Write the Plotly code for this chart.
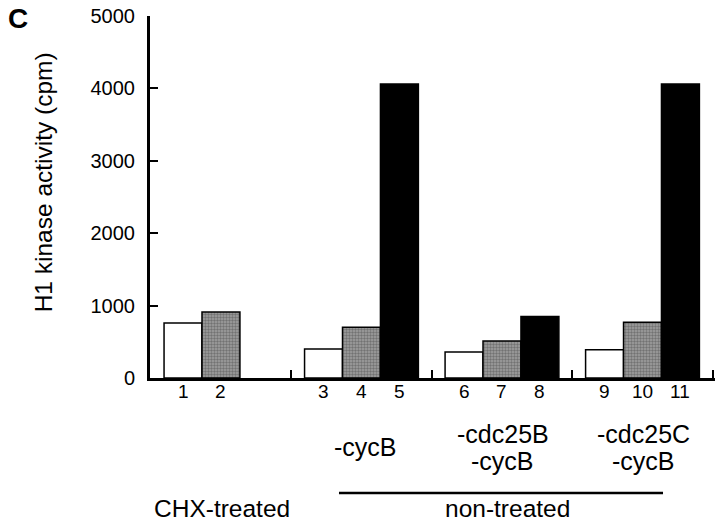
import plotly.graph_objects as go

groups = ["CHX", "cycB", "cdc25B", "cdc25C"]
white_vals = [760, 400, 360, 390]
gray_vals = [910, 700, 510, 770]
black_vals = [None, 4060, 850, 4060]
bar_numbers = [["1", "2", None], ["3", "4", "5"], ["6", "7", "8"], ["9", "10", "11"]]
group_labels = [[], ["-cycB"], ["-cdc25B", "-cycB"], ["-cdc25C", "-cycB"]]
y_ticks = [0, 1000, 2000, 3000, 4000, 5000]

FONT = "Liberation Sans, Arial, Helvetica, sans-serif"
xpos = list(range(len(groups)))
bw = 0.27

fig = go.Figure()
fig.add_trace(go.Bar(x=xpos, y=white_vals, marker=dict(color="white", line=dict(color="black", width=1.5))))
fig.add_trace(go.Bar(x=xpos, y=gray_vals, marker=dict(color="#8c8c8c", line=dict(color="black", width=1.5),
                                                   pattern=dict(shape=".", size=3, solidity=0.5, fgcolor="#444444", bgcolor="#a0a0a0"))))
fig.add_trace(go.Bar(x=xpos, y=black_vals, marker=dict(color="black", line=dict(color="black", width=1.5))))

ann = []
for g, nums in enumerate(bar_numbers):
    for i, n in enumerate(nums):
        if n is None:
            continue
        ann.append(dict(x=g + (i - 1) * bw, y=0, yref="y", xref="x", text=n, showarrow=False,
                        yshift=-13, yanchor="middle", font=dict(size=19, color="black", family=FONT)))

for g, lines in enumerate(group_labels):
    if not lines:
        continue
    if len(lines) == 1:
        ys = [-0.19]
    else:
        ys = [-0.155, -0.23]
    for ln, yy in zip(lines, ys):
        ann.append(dict(x=g + 0.03 if len(lines) == 1 else g + 0.005, y=yy, xref="x", yref="paper", text=ln,
                        showarrow=False, yanchor="middle", font=dict(size=25, color="black", family=FONT)))

ann.append(dict(x=0.007, y=-0.36, xref="x", yref="paper", text="CHX-treated", showarrow=False,
                yanchor="middle", font=dict(size=24.5, color="black", family=FONT)))
ann.append(dict(x=2.036, y=-0.36, xref="x", yref="paper", text="non-treated", showarrow=False,
                yanchor="middle", font=dict(size=24.5, color="black", family=FONT)))
ann.append(dict(x=-0.189, y=0.541, xref="paper", yref="paper", text="H1 kinase activity (cpm)", textangle=-90,
                showarrow=False, xanchor="center", yanchor="middle", font=dict(size=24.5, color="black", family=FONT)))
ann.append(dict(x=-0.234, y=0.992, xref="paper", yref="paper", text="<b>C</b>", showarrow=False,
                xanchor="center", yanchor="middle", font=dict(size=28, color="black", family=FONT)))

fig.update_layout(
    width=720, height=522,
    margin=dict(l=150, r=5, t=16, b=144),
    plot_bgcolor="white", paper_bgcolor="white",
    barmode="group", bargap=1 - 3 * bw, bargroupgap=0,
    showlegend=False,
    annotations=ann,
    shapes=[dict(type="line", xref="x", yref="paper", x0=0.84, x1=3.146, y0=-0.318, y1=-0.318,
                 line=dict(color="black", width=2.5))],
    font=dict(family=FONT, color="black"),
)
fig.update_xaxes(range=[-0.505, 3.516], showline=True, linewidth=3, linecolor="black", automargin=False,
                 tickmode="array", tickvals=[0.5, 1.5, 2.5, 3.5], ticktext=["", "", "", ""],
                 ticks="inside", ticklen=8, tickwidth=1.5, tickcolor="black", showgrid=False, zeroline=False)
fig.update_yaxes(range=[0, 5000], showline=True, linewidth=3, linecolor="black", automargin=False,
                 tickmode="array", tickvals=y_ticks, ticks="inside", ticklen=8, tickwidth=1.5, tickcolor="black",
                 tickfont=dict(size=20, family=FONT, color="black"), ticklabelstandoff=8,
                 showgrid=False, zeroline=False)

fig.write_html("out.html", config={"displayModeBar": False},
               post_script="document.body.style.margin='0';document.body.style.overflow='hidden';")
